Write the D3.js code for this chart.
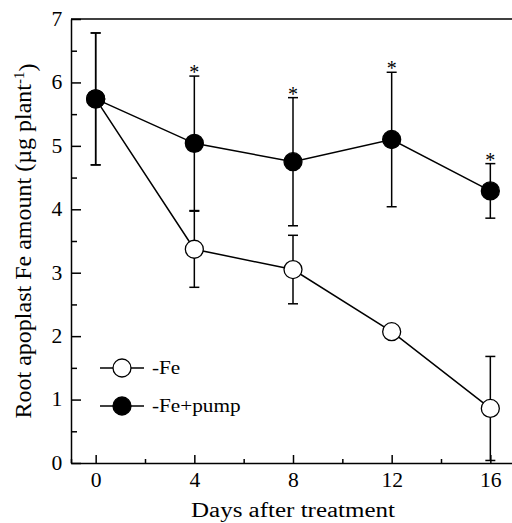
<!DOCTYPE html>
<html>
<head>
<meta charset="utf-8">
<script src="https://cdn.jsdelivr.net/npm/d3@7"></script>
<style>
  body { margin: 0; background: #fff; }
  text { font-family: "Liberation Serif", "Times New Roman", serif; fill: #000; }
</style>
</head>
<body>
<div id="chart"></div>
<script>
// data
var days = [0, 4, 8, 12, 16];
var seriesNames = ["-Fe", "-Fe+pump"];
var feMean = [5.74, 3.37, 3.05, 2.07, 0.86];
var feErr = [1.04, 0.60, 0.54, 0.04, 0.82];
var pumpMean = [5.74, 5.04, 4.75, 5.10, 4.29];
var pumpErr = [1.04, 1.06, 1.01, 1.06, 0.43];
var signif = [false, true, true, true, true];
var xTicks = [0, 4, 8, 12, 16];
var yTicks = [0, 1, 2, 3, 4, 5, 6, 7];

var outerWidth = 512,
    outerHeight = 523;
var margin = {left: 71, top: 19};
var width = 444,
    height = 444;

var x = d3.scaleLinear().domain([-1, 17]).range([0, width]);
var y = d3.scaleLinear().domain([0, 7]).range([height, 0]);

var svg = d3.select("#chart")
    .append("svg")
    .attr("width", outerWidth)
    .attr("height", outerHeight)
    .append("g")
    .attr("transform", "translate(" + margin.left + "," + margin.top + ")");

// minor ticks
svg.append("g")
    .call(d3.axisLeft(y).tickValues(d3.range(0.5, 7, 1)).tickSizeInner(-6).tickSizeOuter(0).tickFormat(""))
    .call(function(g) { g.select(".domain").remove(); })
    .selectAll("line").attr("stroke-width", 1.5);

svg.append("g")
    .attr("transform", "translate(0," + height + ")")
    .call(d3.axisBottom(x).tickValues([-1, 2, 6, 10, 14]).tickSizeInner(-4).tickSizeOuter(0).tickFormat(""))
    .call(function(g) { g.select(".domain").remove(); })
    .selectAll("line").attr("stroke-width", 1.5);

// Y axis
var yAxis = svg.append("g")
    .call(d3.axisLeft(y).tickValues(yTicks).tickSizeInner(-10).tickSizeOuter(0)
        .tickPadding(8).tickFormat(d3.format("d")));
yAxis.select(".domain").attr("stroke-width", 1.5);
yAxis.selectAll("line").attr("stroke-width", 1.5);
yAxis.selectAll("text")
    .style("font-size", "20px")
    .attr("transform", "scale(1.08,1)");

// X axis
var xAxis = svg.append("g")
    .attr("transform", "translate(0," + height + ")")
    .call(d3.axisBottom(x).tickValues(xTicks).tickSizeInner(-8).tickSizeOuter(0)
        .tickPadding(10).tickFormat(d3.format("d")));
xAxis.select(".domain").attr("stroke-width", 1.5);
xAxis.selectAll("line").attr("stroke-width", 1.5);
xAxis.selectAll("text")
    .style("font-size", "20px")
    .attr("transform", "scale(1.08,1)");

// frame top and right
svg.append("line")
    .attr("x1", 0).attr("x2", width).attr("y1", 0).attr("y2", 0)
    .attr("stroke", "#000").attr("stroke-width", 1.5);
svg.append("line")
    .attr("x1", width).attr("x2", width).attr("y1", 0).attr("y2", height)
    .attr("stroke", "#000").attr("stroke-width", 1.5);

// axis titles
svg.append("text")
    .attr("transform", "translate(" + x(8) + "," + (height + 54) + ") scale(1.25,1)")
    .style("text-anchor", "middle")
    .style("font-size", "20px")
    .text("Days after treatment");

var yTitle = svg.append("text")
    .attr("transform", "translate(-40," + (height / 2) + ") rotate(-90)")
    .style("text-anchor", "middle")
    .style("font-size", "24px");
yTitle.append("tspan").text("Root apoplast Fe amount (\u00b5g plant");
yTitle.append("tspan").attr("dy", "-0.45em").style("font-size", "15px").text("-1");
yTitle.append("tspan").attr("dy", "0.45em").text(")");

var series = [
    {name: seriesNames[0], mean: feMean, err: feErr, fill: "#fff"},
    {name: seriesNames[1], mean: pumpMean, err: pumpErr, fill: "#000"}
];

var line = d3.line()
    .x(function(d) { return x(d.day); })
    .y(function(d) { return y(d.mean); });

series.forEach(function(s) {
    var pts = days.map(function(d, i) {
        return {day: d, mean: s.mean[i], err: s.err[i]};
    });
    var g = svg.append("g");

    // error bars
    var eb = g.selectAll(".eb").data(pts).enter().append("g");
    eb.append("line")
        .attr("x1", function(d) { return x(d.day); })
        .attr("x2", function(d) { return x(d.day); })
        .attr("y1", function(d) { return y(d.mean + d.err); })
        .attr("y2", function(d) { return y(d.mean - d.err); })
        .attr("stroke", "#000").attr("stroke-width", 1.5);
    [1, -1].forEach(function(sign) {
        eb.append("line")
            .attr("x1", function(d) { return x(d.day) - 5; })
            .attr("x2", function(d) { return x(d.day) + 5; })
            .attr("y1", function(d) { return y(d.mean + sign * d.err); })
            .attr("y2", function(d) { return y(d.mean + sign * d.err); })
            .attr("stroke", "#000").attr("stroke-width", 1.5);
    });

    g.append("path")
        .datum(pts)
        .attr("d", line)
        .attr("fill", "none")
        .attr("stroke", "#000")
        .attr("stroke-width", 1.5);

    g.selectAll("circle").data(pts).enter().append("circle")
        .attr("cx", function(d) { return x(d.day); })
        .attr("cy", function(d) { return y(d.mean); })
        .attr("r", 9)
        .attr("fill", s.fill)
        .attr("stroke", "#000")
        .attr("stroke-width", 1.3);
});

// significance marks
svg.selectAll(".star")
    .data(days.filter(function(d, i) { return signif[i]; }))
    .enter().append("text")
    .attr("x", function(d) { return x(d); })
    .attr("y", function(d) {
        var i = days.indexOf(d);
        return y(pumpMean[i] + pumpErr[i]) + 3;
    })
    .style("text-anchor", "middle")
    .style("font-size", "20px")
    .text("*");

// legend
var legend = svg.selectAll(".legend")
    .data(series)
    .enter().append("g")
    .attr("transform", function(d, i) { return "translate(29," + (349 + i * 38) + ")"; });

legend.append("line")
    .attr("x1", 0).attr("x2", 44)
    .attr("stroke", "#000").attr("stroke-width", 1.5);
legend.append("circle")
    .attr("cx", 22).attr("r", 9)
    .attr("fill", function(d) { return d.fill; })
    .attr("stroke", "#000").attr("stroke-width", 1.3);
legend.append("text")
    .attr("transform", "translate(52,0) scale(1.18,1)")
    .attr("dy", "0.33em")
    .style("font-size", "18px")
    .text(function(d) { return d.name; });
</script>
</body>
</html>
